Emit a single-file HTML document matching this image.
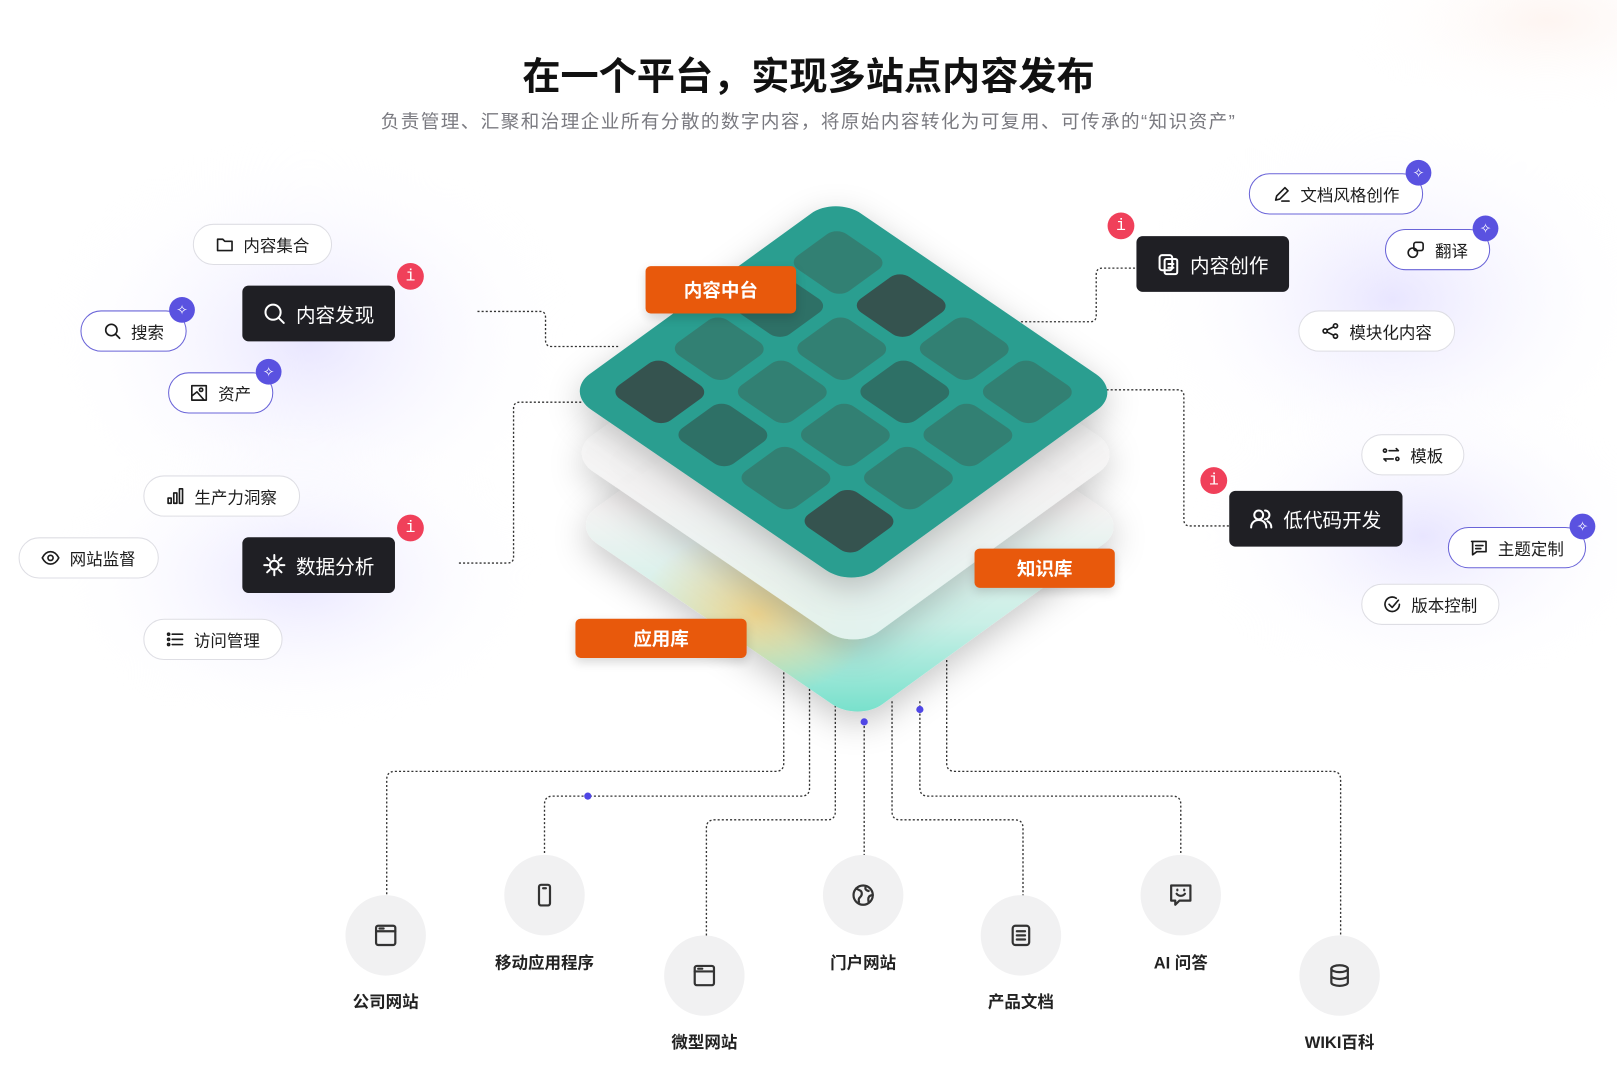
<!DOCTYPE html>
<html><head><meta charset="utf-8">
<style>
html,body{margin:0;padding:0;width:1617px;height:1080px;overflow:hidden;background:#fff}
#w{position:absolute;left:0;top:0;width:1568px;height:1047px;transform:scale(1.03125);transform-origin:0 0;font-family:"Liberation Sans","Noto Sans CJK SC",sans-serif;color:#1a1a1a}
.a{position:absolute}
.pill{position:absolute;box-sizing:border-box;height:40px;border:1.5px solid #dedee4;border-radius:20px;background:#fff;display:flex;align-items:center;justify-content:center;gap:9px;font-size:16px;color:#1c1c1c}
.pp{border-color:#6a64d8}
.bd{position:absolute;width:25px;height:25px;border-radius:50%;background:#5a52e0;color:#fff;font-size:13px;display:flex;align-items:center;justify-content:center}
.dk{position:absolute;box-sizing:border-box;height:54px;background:#1f1f24;border-radius:6px;color:#fff;font-size:19px;display:flex;align-items:center;justify-content:center;gap:10px}
.ri{position:absolute;width:26px;height:26px;border-radius:50%;background:#f0405a;color:#fff;font-family:"Liberation Mono",monospace;font-size:16px;display:flex;align-items:center;justify-content:center}
.or{position:absolute;background:#e8590c;color:#fff;font-weight:bold;font-size:18px;border-radius:5px;display:flex;align-items:center;justify-content:center;box-shadow:0 4px 10px rgba(0,0,0,.15)}
.cl{position:absolute;width:78px;height:78px;border-radius:50%;background:#f1f1f2;display:flex;align-items:center;justify-content:center}
.lb{position:absolute;width:160px;text-align:center;font-size:16px;font-weight:bold;color:#222}
svg.i{width:18px;height:18px;fill:none;stroke:currentColor;stroke-width:1.6;stroke-linecap:round;stroke-linejoin:round}
</style></head><body><div id="w">
<svg class="a" style="left:0;top:0" width="1568" height="1047" viewBox="0 0 1568 1047">
<defs>
<radialGradient id="gl" cx="50%" cy="50%" r="50%"><stop offset="0" stop-color="#e6e3ff" stop-opacity=".9"/><stop offset="1" stop-color="#fff" stop-opacity="0"/></radialGradient>
<radialGradient id="gw" cx="50%" cy="50%" r="50%"><stop offset="0" stop-color="#fdeee8" stop-opacity=".6"/><stop offset="1" stop-color="#fff" stop-opacity="0"/></radialGradient>
<linearGradient id="l3" x1="0" y1="0" x2="1" y2="1"><stop offset="0" stop-color="#fff"/><stop offset=".45" stop-color="#f6f4f4"/><stop offset=".75" stop-color="#c9efe6"/><stop offset="1" stop-color="#6fdfc9"/></linearGradient>
<radialGradient id="yb" cx=".55" cy=".9" r=".3"><stop offset="0" stop-color="#f7cf7a" stop-opacity=".8"/><stop offset="1" stop-color="#f7cf7a" stop-opacity="0"/></radialGradient>
<linearGradient id="l2" x1="0" y1="0" x2="1" y2="1"><stop offset="0" stop-color="#fff"/><stop offset=".6" stop-color="#f4f3f3"/><stop offset="1" stop-color="#e4f5f1"/></linearGradient>
<filter id="sh" x="-30%" y="-30%" width="160%" height="160%"><feDropShadow dx="0" dy="10" stdDeviation="16" flood-color="#000" flood-opacity=".22"/></filter>
</defs>
<ellipse cx="300" cy="330" rx="260" ry="200" fill="url(#gl)"/>
<ellipse cx="290" cy="560" rx="240" ry="150" fill="url(#gl)"/>
<ellipse cx="1350" cy="290" rx="250" ry="180" fill="url(#gl)"/>
<ellipse cx="1380" cy="520" rx="230" ry="150" fill="url(#gl)"/>
<ellipse cx="1500" cy="20" rx="200" ry="90" fill="url(#gw)"/>
<g fill="none" stroke="#333" stroke-width="1.3" stroke-dasharray="2 2">
<path d="M463 302H524Q529 302 529 308V330Q529 336 535 336H600"/>
<path d="M445 546H492Q498 546 498 540V396Q498 390 504 390H565"/>
<path d="M990 312H1057Q1063 312 1063 306V266Q1063 260 1069 260H1102"/>
<path d="M1045 378H1142Q1148 378 1148 384V504Q1148 510 1154 510H1192"/>
<path d="M760 640V740Q760 748 752 748H383Q375 748 375 756V870"/>
<path d="M785 660V764Q785 772 777 772H536Q528 772 528 780V830"/>
<path d="M810 680V787Q810 795 802 795H693Q685 795 685 803V908"/>
<path d="M838 700V830"/>
<path d="M865 680V787Q865 795 873 795H984Q992 795 992 803V870"/>
<path d="M892 680V764Q892 772 900 772H1137Q1145 772 1145 780V830"/>
<path d="M918 640V740Q918 748 926 748H1292Q1300 748 1300 756V908"/>
</g>
<g filter="url(#sh)">
<g transform="matrix(278,190,-262,190,816,320)"><rect width="1" height="1" rx=".09" fill="url(#l3)"/><rect width="1" height="1" rx=".09" fill="url(#yb)"/></g>
</g>
<g filter="url(#sh)"><g transform="matrix(278,190,-262,190,812,250)"><rect width="1" height="1" rx=".09" fill="url(#l2)" opacity=".92"/></g></g>
<g filter="url(#sh)"><g transform="matrix(278,190,-262,190,810,190)">
<rect width="1" height="1" rx=".09" fill="#2b9e90"/>
<g fill="#328073">
<rect x=".08" y=".08" width=".18" height=".18" rx=".035"/>
<rect x=".52" y=".08" width=".18" height=".18" rx=".035"/>
<rect x=".74" y=".08" width=".18" height=".18" rx=".035"/>
<rect x=".08" y=".30" width=".18" height=".18" rx=".035" fill="#2f6f66"/>
<rect x=".30" y=".30" width=".18" height=".18" rx=".035"/>
<rect x=".52" y=".30" width=".18" height=".18" rx=".035" fill="#2f6f66"/>
<rect x=".74" y=".30" width=".18" height=".18" rx=".035"/>
<rect x=".08" y=".52" width=".18" height=".18" rx=".035"/>
<rect x=".30" y=".52" width=".18" height=".18" rx=".035"/>
<rect x=".52" y=".52" width=".18" height=".18" rx=".035"/>
<rect x=".74" y=".52" width=".18" height=".18" rx=".035"/>
<rect x=".30" y=".74" width=".18" height=".18" rx=".035" fill="#2f6f66"/>
<rect x=".52" y=".74" width=".18" height=".18" rx=".035"/>
</g>
<g fill="#35524f">
<rect x=".30" y=".08" width=".18" height=".18" rx=".035"/>
<rect x=".08" y=".74" width=".18" height=".18" rx=".035"/>
<rect x=".74" y=".74" width=".18" height=".18" rx=".035"/>
</g>
</g></g>
<g fill="#4f46e5"><circle cx="838" cy="700" r="3.5"/><circle cx="892" cy="688" r="3.5"/><circle cx="570" cy="772" r="3.5"/></g>
</svg>

<div class="a" style="left:0;top:44px;width:1568px;text-align:center;font-size:37px;font-weight:bold;color:#111">在一个平台，实现多站点内容发布</div>
<div class="a" style="left:0;top:104px;width:1568px;text-align:center;font-size:18px;letter-spacing:1.4px;color:#7a7a80">负责管理、汇聚和治理企业所有分散的数字内容，将原始内容转化为可复用、可传承的“知识资产”</div>

<div class="or" style="left:626px;top:258px;width:146px;height:46px">内容中台</div>
<div class="or" style="left:945px;top:532px;width:136px;height:38px">知识库</div>
<div class="or" style="left:558px;top:600px;width:166px;height:38px">应用库</div>

<!-- left -->
<div class="pill" style="left:187px;top:217px;width:135px"><svg class="i" viewBox="0 0 18 18"><path d="M2 4h5l2 2h7v9H2z"/></svg>内容集合</div>
<div class="pill pp" style="left:78px;top:301px;width:103px"><svg class="i" viewBox="0 0 18 18"><circle cx="8" cy="8" r="5.5"/><path d="M12 12l4 4"/></svg>搜索</div>
<div class="bd" style="left:164px;top:288px">✧</div>
<div class="pill pp" style="left:163px;top:361px;width:102px"><svg class="i" viewBox="0 0 18 18"><rect x="2" y="2" width="14" height="14"/><circle cx="11" cy="6" r="1.6"/><path d="M2 12l5-4 7 8"/></svg>资产</div>
<div class="bd" style="left:248px;top:348px">✧</div>
<div class="dk" style="left:235px;top:277px;width:148px"><svg class="i" style="width:22px;height:22px" viewBox="0 0 18 18"><circle cx="8" cy="8" r="6"/><path d="M12.5 12.5l4 4"/></svg>内容发现</div>
<div class="ri" style="left:385px;top:255px">i</div>
<div class="pill" style="left:139px;top:461px;width:152px"><svg class="i" viewBox="0 0 18 18"><rect x="2" y="11" width="3" height="5"/><rect x="7.5" y="6" width="3" height="10"/><rect x="13" y="2" width="3" height="14"/></svg>生产力洞察</div>
<div class="pill" style="left:18px;top:521px;width:136px"><svg class="i" viewBox="0 0 18 18"><path d="M1 9c2-4 5-6 8-6s6 2 8 6c-2 4-5 6-8 6s-6-2-8-6z"/><circle cx="9" cy="9" r="2.5"/></svg>网站监督</div>
<div class="dk" style="left:235px;top:521px;width:148px"><svg class="i" style="width:22px;height:22px" viewBox="0 0 18 18"><circle cx="9" cy="9" r="3.5"/><path d="M9 1v3M9 14v3M1 9h3M14 9h3M3.3 3.3l2 2M12.7 12.7l2 2M3.3 14.7l2-2M12.7 5.3l2-2"/></svg>数据分析</div>
<div class="ri" style="left:385px;top:499px">i</div>
<div class="pill" style="left:139px;top:600px;width:135px"><svg class="i" viewBox="0 0 18 18"><path d="M6 4h10M6 9h10M6 14h10"/><circle cx="2.5" cy="4" r="1"/><circle cx="2.5" cy="9" r="1"/><circle cx="2.5" cy="14" r="1"/></svg>访问管理</div>

<!-- right -->
<div class="pill pp" style="left:1211px;top:168px;width:169px"><svg class="i" viewBox="0 0 18 18"><path d="M3 15l1-4 8-8 3 3-8 8zM9 16h7"/></svg>文档风格创作</div>
<div class="bd" style="left:1363px;top:155px">✧</div>
<div class="pill pp" style="left:1343px;top:222px;width:102px"><svg class="i" viewBox="0 0 18 18"><rect x="7" y="2" width="9" height="8" rx="2"/><circle cx="6" cy="12" r="4.5"/></svg>翻译</div>
<div class="bd" style="left:1428px;top:209px">✧</div>
<div class="dk" style="left:1102px;top:229px;width:148px"><svg class="i" style="width:22px;height:22px" viewBox="0 0 18 18"><rect x="2" y="2" width="10" height="12" rx="2"/><rect x="6" y="5" width="10" height="12" rx="1.5"/><path d="M9 9h4M9 12h4"/></svg>内容创作</div>
<div class="ri" style="left:1074px;top:206px">i</div>
<div class="pill" style="left:1259px;top:301px;width:152px"><svg class="i" viewBox="0 0 18 18"><circle cx="4" cy="9" r="2"/><circle cx="14" cy="4" r="2"/><circle cx="14" cy="14" r="2"/><path d="M6 8l6-3M6 10l6 3"/></svg>模块化内容</div>
<div class="pill" style="left:1320px;top:421px;width:100px"><svg class="i" viewBox="0 0 18 18"><circle cx="3" cy="5" r="1.5"/><path d="M7 5h9l-2-2M11 13H2l2 2"/><circle cx="15" cy="13" r="1.5"/></svg>模板</div>
<div class="dk" style="left:1192px;top:476px;width:168px"><svg class="i" style="width:22px;height:22px" viewBox="0 0 18 18"><circle cx="7" cy="6" r="3.5"/><path d="M1 16c0-4 3-6 6-6s6 2 6 6M12 2.5a3.5 3.5 0 010 7M14 11c2 1 3 3 3 5"/></svg>低代码开发</div>
<div class="ri" style="left:1164px;top:453px">i</div>
<div class="pill pp" style="left:1404px;top:511px;width:134px"><svg class="i" viewBox="0 0 18 18"><path d="M2 3h14v10H7l-4 3V3zM6 7h7M6 10h5"/></svg>主题定制</div>
<div class="bd" style="left:1522px;top:498px">✧</div>
<div class="pill" style="left:1320px;top:566px;width:134px"><svg class="i" viewBox="0 0 18 18"><path d="M16 9a7 7 0 11-3-5.8"/><path d="M6 9l3 3 6-7"/></svg>版本控制</div>

<!-- bottom -->
<div class="cl" style="left:335px;top:868px"><svg class="i" style="width:24px;height:24px;color:#333" viewBox="0 0 18 18"><rect x="2" y="2" width="14" height="14" rx="1.5"/><path d="M2 6h14M4.5 4h3"/></svg></div>
<div class="lb" style="left:294px;top:958px">公司网站</div>
<div class="cl" style="left:489px;top:829px"><svg class="i" style="width:24px;height:24px;color:#333" viewBox="0 0 18 18"><rect x="5" y="1.5" width="8" height="15" rx="1.5"/><path d="M8 4h2"/></svg></div>
<div class="lb" style="left:448px;top:920px">移动应用程序</div>
<div class="cl" style="left:644px;top:907px"><svg class="i" style="width:24px;height:24px;color:#333" viewBox="0 0 18 18"><rect x="2" y="2" width="14" height="14" rx="1.5"/><path d="M2 6h14M4.5 4h3"/></svg></div>
<div class="lb" style="left:603px;top:997px">微型网站</div>
<div class="cl" style="left:798px;top:829px"><svg class="i" style="width:24px;height:24px;color:#333" viewBox="0 0 18 18"><circle cx="9" cy="9" r="7"/><path d="M4 4c2 2 4 1 4 4s-3 2-2 6M11 2.5c-1 2 0 3 2 3.5M16 9c-2 0-4 1-3 5"/></svg></div>
<div class="lb" style="left:757px;top:920px">门户网站</div>
<div class="cl" style="left:951px;top:868px"><svg class="i" style="width:24px;height:24px;color:#333" viewBox="0 0 18 18"><rect x="3" y="2" width="12" height="14" rx="2"/><path d="M6 6h6M6 9h6M6 12h6"/></svg></div>
<div class="lb" style="left:910px;top:958px">产品文档</div>
<div class="cl" style="left:1106px;top:829px"><svg class="i" style="width:24px;height:24px;color:#333" viewBox="0 0 18 18"><path d="M2 2h14v11H8l-3 3v-3H2z"/><path d="M6 8c1.5 2 4.5 2 6 0M6.5 5v.5M11.5 5v.5"/></svg></div>
<div class="lb" style="left:1065px;top:920px">AI 问答</div>
<div class="cl" style="left:1260px;top:907px"><svg class="i" style="width:24px;height:24px;color:#333" viewBox="0 0 18 18"><ellipse cx="9" cy="4" rx="6" ry="2.5"/><path d="M3 4v10c0 1.4 2.7 2.5 6 2.5s6-1.1 6-2.5V4M3 9c0 1.4 2.7 2.5 6 2.5S15 10.4 15 9"/></svg></div>
<div class="lb" style="left:1219px;top:997px">WIKI百科</div>
</div></body></html>
